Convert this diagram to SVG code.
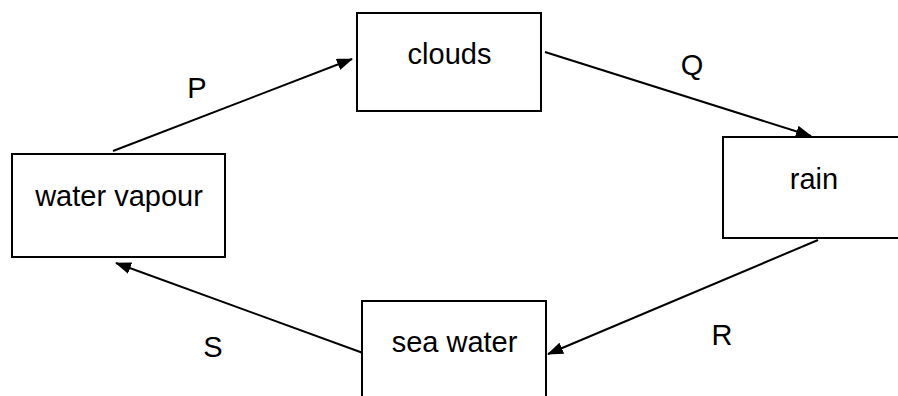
<svg xmlns="http://www.w3.org/2000/svg" width="898" height="396" viewBox="0 0 898 396">
<style>
.box{fill:#fff;stroke:#000;stroke-width:2}
.lbl{font-family:"Liberation Sans",Arial,sans-serif;font-size:29px;fill:#000;text-anchor:middle}
.con{stroke:#000;stroke-width:2;fill:none;marker-end:url(#ah)}
</style>
<defs>
<marker id="ah" viewBox="0 0 16 12" refX="15" refY="6" markerWidth="16" markerHeight="12" markerUnits="userSpaceOnUse" orient="auto">
<path d="M0,0 L16,6 L0,12 Z" fill="#000"/>
</marker>
</defs>
<rect width="898" height="396" fill="#fff"/>
<g id="connectors">
<line class="con" x1="113" y1="151" x2="352" y2="59"/>
<line class="con" x1="545" y1="52" x2="811" y2="136"/>
<line class="con" x1="818" y1="240" x2="548" y2="354"/>
<line class="con" x1="363" y1="353" x2="116" y2="263"/>
<text class="lbl" x="197" y="98">P</text>
<text class="lbl" x="692" y="75">Q</text>
<text class="lbl" x="722" y="345">R</text>
<text class="lbl" x="213" y="357">S</text>
</g>
<g id="clouds">
<rect class="box" x="357" y="13" width="184" height="98"/>
<text class="lbl" x="449.5" y="64">clouds</text>
</g>
<g id="water-vapour">
<rect class="box" x="12" y="154" width="213" height="103"/>
<text class="lbl" x="119" y="206">water vapour</text>
</g>
<g id="rain">
<rect class="box" x="723" y="137" width="190" height="101"/>
<text class="lbl" x="814" y="189">rain</text>
</g>
<g id="sea-water">
<rect class="box" x="362" y="301" width="184" height="110"/>
<text class="lbl" x="454.5" y="352">sea water</text>
</g>
</svg>
